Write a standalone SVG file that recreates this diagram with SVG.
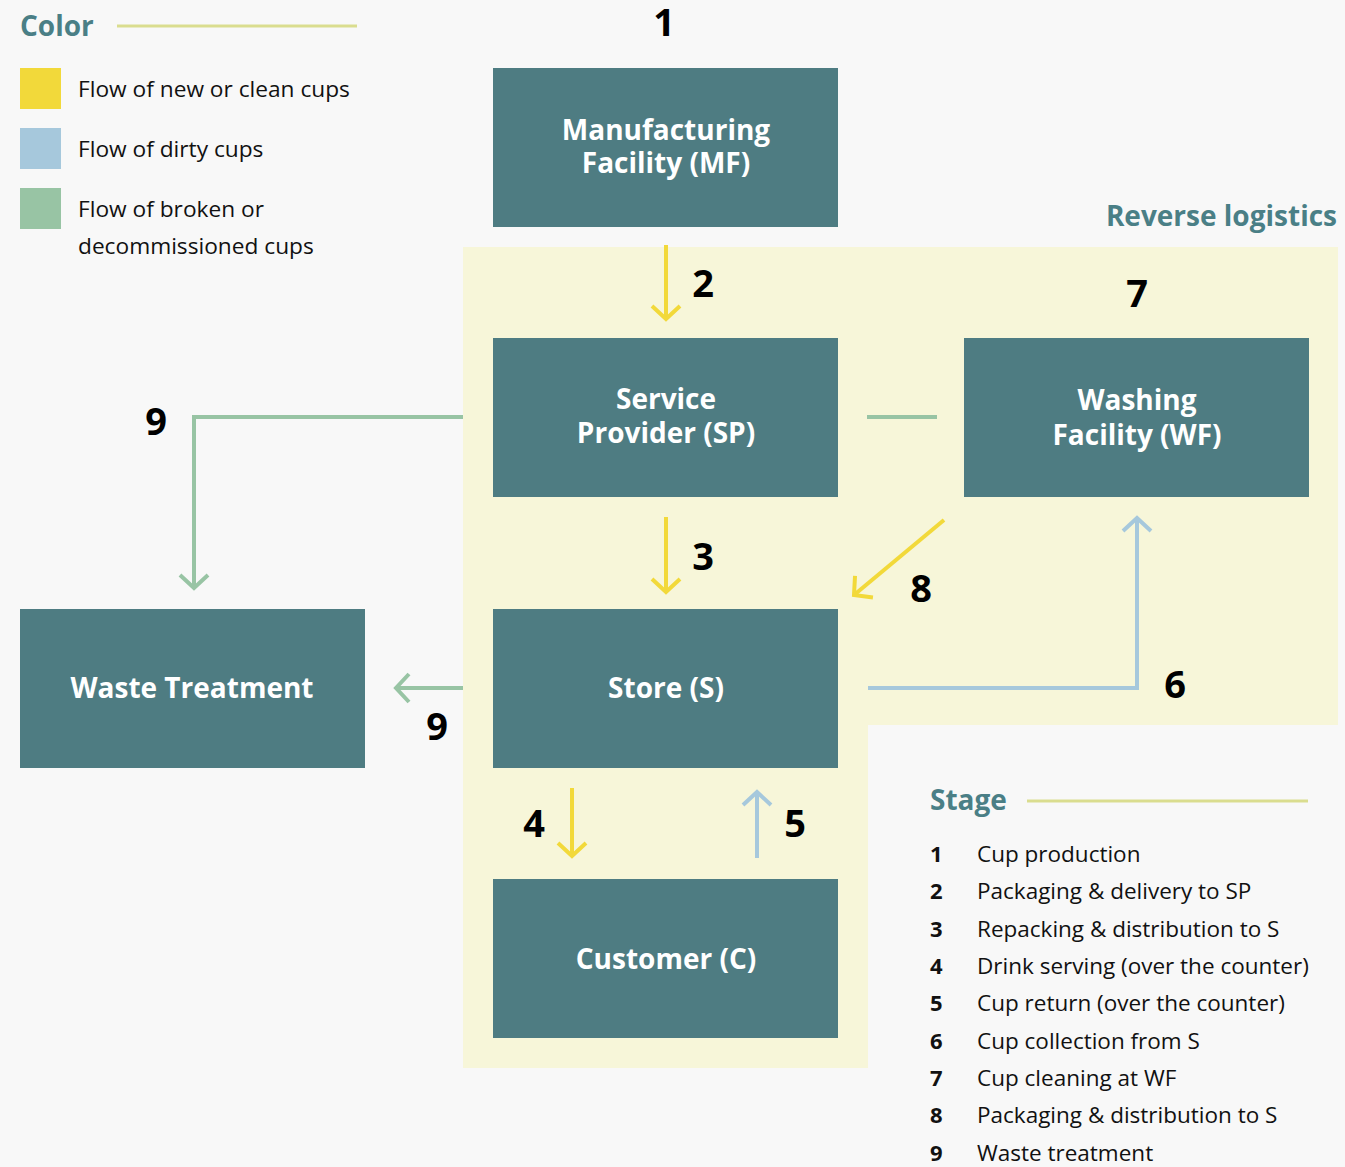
<svg xmlns="http://www.w3.org/2000/svg" width="1345" height="1167" viewBox="0 0 1345 1167">
<style>
.node rect{fill:#4e7c82}
.node text{fill:#fff;font-family:"Open Sans","Liberation Sans",sans-serif;font-weight:bold;font-size:28px;text-anchor:middle}
.num{font-family:"Open Sans","Liberation Sans",sans-serif;font-weight:bold;font-size:38px;fill:#000}
.head{font-family:"Open Sans","Liberation Sans",sans-serif;font-weight:bold;font-size:28px;fill:#4a7f86}
.lg{font-family:"Open Sans","Liberation Sans",sans-serif;font-size:22.7px;fill:#111}
.st{font-family:"Open Sans","Liberation Sans",sans-serif;font-size:22.5px;fill:#111}
.lgn{font-family:"Open Sans","Liberation Sans",sans-serif;font-size:22px;font-weight:bold;fill:#111}
.c{fill:none;stroke-width:4}
.y{stroke:#f2d93a}.b{stroke:#a6c8dc}.g{stroke:#98c4a4}
</style>
<defs>
<marker id="ay" markerUnits="userSpaceOnUse" markerWidth="40" markerHeight="40" viewBox="-20 -20 40 40" refX="0" refY="0" orient="auto"><path d="M-13,-14 L0,0 L-13,14" fill="none" stroke="#f2d93a" stroke-width="4"/></marker>
<marker id="ab" markerUnits="userSpaceOnUse" markerWidth="40" markerHeight="40" viewBox="-20 -20 40 40" refX="0" refY="0" orient="auto"><path d="M-13,-14 L0,0 L-13,14" fill="none" stroke="#a6c8dc" stroke-width="4"/></marker>
<marker id="ag" markerUnits="userSpaceOnUse" markerWidth="40" markerHeight="40" viewBox="-20 -20 40 40" refX="0" refY="0" orient="auto"><path d="M-13,-14 L0,0 L-13,14" fill="none" stroke="#98c4a4" stroke-width="4"/></marker>
</defs>
<rect width="1345" height="1167" fill="#f8f8f8"/>
<path d="M463,247 H1338 V725 H868 V1068 H463 Z" fill="#f7f6d9"/>
<text class="head" x="1337" y="226" text-anchor="end">Reverse logistics</text>

<g id="legend-color">
<text class="head" x="20" y="36">Color</text>
<line x1="117" y1="26" x2="357" y2="26" stroke="#dadd8f" stroke-width="3"/>
<rect x="20" y="68" width="41" height="41" fill="#f2d93a"/>
<rect x="20" y="128" width="41" height="41" fill="#a6c8dc"/>
<rect x="20" y="188" width="41" height="41" fill="#98c4a4"/>
<text class="lg" x="78" y="97">Flow of new or clean cups</text>
<text class="lg" x="78" y="157">Flow of dirty cups</text>
<text class="lg" x="78" y="217">Flow of broken or</text>
<text class="lg" x="78" y="254">decommissioned cups</text>
</g>

<g id="node-mf" class="node"><rect x="493" y="68" width="345" height="159"/><text x="666" y="140">Manufacturing</text><text x="666" y="173">Facility (MF)</text></g>
<g id="node-sp" class="node"><rect x="493" y="338" width="345" height="159"/><text x="666" y="409">Service</text><text x="666" y="443">Provider (SP)</text></g>
<g id="node-wf" class="node"><rect x="964" y="338" width="345" height="159"/><text x="1137" y="410">Washing</text><text x="1137" y="445">Facility (WF)</text></g>
<g id="node-waste" class="node"><rect x="20" y="609" width="345" height="159"/><text x="192" y="698">Waste Treatment</text></g>
<g id="node-store" class="node"><rect x="493" y="609" width="345" height="159"/><text x="666" y="698">Store (S)</text></g>
<g id="node-customer" class="node"><rect x="493" y="879" width="345" height="159"/><text x="666" y="969">Customer (C)</text></g>

<g id="connectors">
<line class="c y" x1="666" y1="245" x2="666" y2="319" marker-end="url(#ay)"/>
<line class="c y" x1="666" y1="517" x2="666" y2="592" marker-end="url(#ay)"/>
<line class="c y" x1="572" y1="788" x2="572" y2="856" marker-end="url(#ay)"/>
<line class="c b" x1="757" y1="858" x2="757" y2="792" marker-end="url(#ab)"/>
<line class="c y" x1="944" y1="520" x2="854" y2="595" marker-end="url(#ay)"/>
<polyline class="c b" points="868,688 1137,688 1137,518" marker-end="url(#ab)"/>
<line class="c g" x1="867" y1="417" x2="937" y2="417"/>
<polyline class="c g" points="463,417 194,417 194,588" marker-end="url(#ag)"/>
<line class="c g" x1="463" y1="688" x2="396" y2="688" marker-end="url(#ag)"/>
</g>

<g id="labels">
<text class="num" x="664" y="36" text-anchor="middle">1</text>
<text class="num" x="703" y="297" text-anchor="middle">2</text>
<text class="num" x="703" y="570" text-anchor="middle">3</text>
<text class="num" x="534" y="837" text-anchor="middle">4</text>
<text class="num" x="795" y="837" text-anchor="middle">5</text>
<text class="num" x="1175" y="698" text-anchor="middle">6</text>
<text class="num" x="1137" y="307" text-anchor="middle">7</text>
<text class="num" x="921" y="602" text-anchor="middle">8</text>
<text class="num" x="156" y="435" text-anchor="middle">9</text>
<text class="num" x="437" y="740" text-anchor="middle">9</text>
</g>

<g id="legend-stage">
<text class="head" x="930" y="810">Stage</text>
<line x1="1027" y1="801" x2="1308" y2="801" stroke="#dadd8f" stroke-width="3"/>
<text class="lgn" x="930" y="862">1</text><text class="st" x="977" y="862">Cup production</text>
<text class="lgn" x="930" y="899">2</text><text class="st" x="977" y="899">Packaging &amp; delivery to SP</text>
<text class="lgn" x="930" y="937">3</text><text class="st" x="977" y="937">Repacking &amp; distribution to S</text>
<text class="lgn" x="930" y="974">4</text><text class="st" x="977" y="974">Drink serving (over the counter)</text>
<text class="lgn" x="930" y="1011">5</text><text class="st" x="977" y="1011">Cup return (over the counter)</text>
<text class="lgn" x="930" y="1049">6</text><text class="st" x="977" y="1049">Cup collection from S</text>
<text class="lgn" x="930" y="1086">7</text><text class="st" x="977" y="1086">Cup cleaning at WF</text>
<text class="lgn" x="930" y="1123">8</text><text class="st" x="977" y="1123">Packaging &amp; distribution to S</text>
<text class="lgn" x="930" y="1161">9</text><text class="st" x="977" y="1161">Waste treatment</text>
</g>
</svg>
